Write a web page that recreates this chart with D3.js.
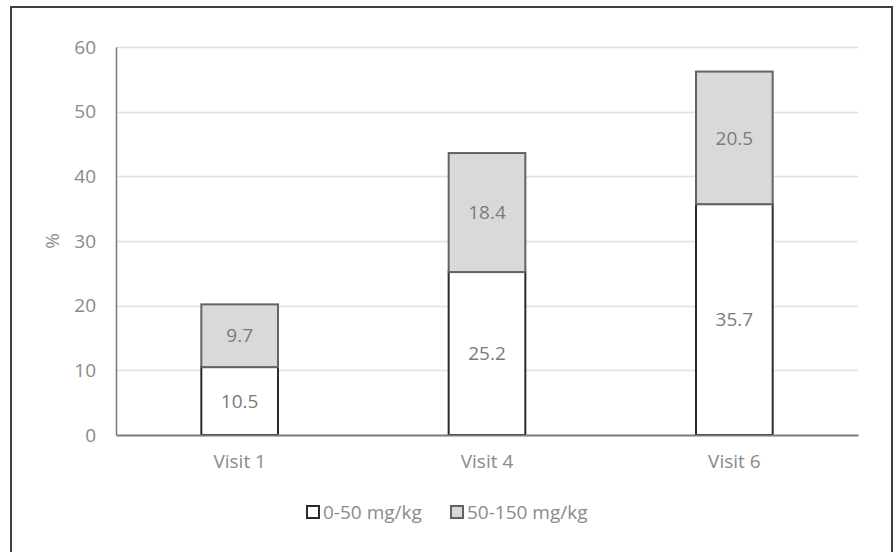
<!DOCTYPE html>
<html>
<head>
<meta charset="utf-8">
<script src="https://cdn.jsdelivr.net/npm/d3@7"></script>
<style>
  html, body { margin: 0; padding: 0; background: #fff; }
  svg { display: block; font-family: "Open Sans", "Noto Sans", sans-serif; }
</style>
</head>
<body>
<svg id="chart" width="896" height="552"></svg>
<script>
// Visits on the x axis
const categories = ["Visit 1", "Visit 4", "Visit 6"];
// Share of patients per dose band (%)
const lowDose = [10.5, 25.2, 35.7];   // 0-50 mg/kg
const highDose = [9.7, 18.4, 20.5];   // 50-150 mg/kg
const seriesNames = ["0-50 mg/kg", "50-150 mg/kg"];
const yTicks = [0, 10, 20, 30, 40, 50, 60];

const svg = d3.select("#chart");
const W = 896, H = 552;
const margin = { left: 116, right: 38, top: 47, bottom: 117 };
const textColor = "#8a8a8a";
const fontSize = 19;

// outer frame
svg.append("rect")
  .attr("x", 11).attr("y", 7)
  .attr("width", W - 11 - 4).attr("height", H + 10)
  .attr("fill", "none").attr("stroke", "#3f3f3f").attr("stroke-width", 2);

const x = d3.scaleBand()
  .domain(categories)
  .range([margin.left, W - margin.right])
  .paddingInner(0.69).paddingOuter(0.345);

const y = d3.scaleLinear()
  .domain([0, 60])
  .range([H - margin.bottom, margin.top]);

// gridlines
svg.append("g")
  .selectAll("line")
  .data(yTicks.filter(d => d > 0))
  .join("line")
  .attr("x1", margin.left).attr("x2", W - margin.right)
  .attr("y1", d => Math.round(y(d)) + 0.5).attr("y2", d => Math.round(y(d)) + 0.5)
  .attr("stroke", "#e0e0e0").attr("stroke-width", 1.5);

// y axis
const yAxis = d3.axisLeft(y).tickValues(yTicks).tickSize(0).tickPadding(20);
const gy = svg.append("g").attr("transform", `translate(${margin.left},0)`).call(yAxis);
gy.attr("font-family", null).attr("font-size", null);
gy.select(".domain").attr("stroke", "#7a7a7a").attr("stroke-width", 1.5);
gy.selectAll("text").attr("fill", textColor).attr("font-size", fontSize);

// stacked bars
const stack = categories.map((c, i) => [
  { cat: c, y0: 0, y1: lowDose[i], v: lowDose[i], s: 0 },
  { cat: c, y0: lowDose[i], y1: lowDose[i] + highDose[i], v: highDose[i], s: 1 }
]).flat();

const fills = ["#ffffff", "#d9d9d9"];
const strokes = ["#2b2b2b", "#636363"];

svg.append("g").selectAll("rect")
  .data(stack)
  .join("rect")
  .attr("x", d => x(d.cat))
  .attr("width", x.bandwidth())
  .attr("y", d => y(d.y1))
  .attr("height", d => y(d.y0) - y(d.y1))
  .attr("fill", d => fills[d.s])
  .attr("stroke", d => strokes[d.s])
  .attr("stroke-width", 2);

// x axis baseline
const xAxis = d3.axisBottom(x).tickSize(0).tickPadding(20);
const gx = svg.append("g").attr("transform", `translate(0,${y(0)})`).call(xAxis);
gx.attr("font-family", null).attr("font-size", null);
gx.select(".domain").attr("stroke", "#7a7a7a").attr("stroke-width", 2);
gx.selectAll("text").attr("fill", textColor).attr("font-size", fontSize);

// value labels
svg.append("g").selectAll("text")
  .data(stack)
  .join("text")
  .attr("x", d => x(d.cat) + x.bandwidth() / 2)
  .attr("y", d => (y(d.y0) + y(d.y1)) / 2)
  .attr("dy", "0.35em")
  .attr("text-anchor", "middle")
  .attr("fill", "#7b7b7b")
  .attr("font-size", fontSize)
  .text(d => d.v.toFixed(1));

// y axis title
svg.append("text")
  .attr("transform", `translate(52,${(y(0) + y(60)) / 2}) rotate(-90)`)
  .attr("text-anchor", "middle")
  .attr("dy", "0.35em")
  .attr("fill", textColor)
  .attr("font-size", fontSize)
  .text("%");

// legend
const legend = svg.append("g");
const legendX = [307, 451];
seriesNames.forEach((name, i) => {
  const g = legend.append("g").attr("transform", `translate(${legendX[i]},512)`);
  g.append("rect")
    .attr("x", 0).attr("y", -6).attr("width", 12).attr("height", 12)
    .attr("fill", fills[i]).attr("stroke", strokes[i]).attr("stroke-width", 2);
  g.append("text")
    .attr("x", 16).attr("y", 0).attr("dy", "0.35em")
    .attr("fill", textColor).attr("font-size", fontSize)
    .text(name);
});
</script>
</body>
</html>
